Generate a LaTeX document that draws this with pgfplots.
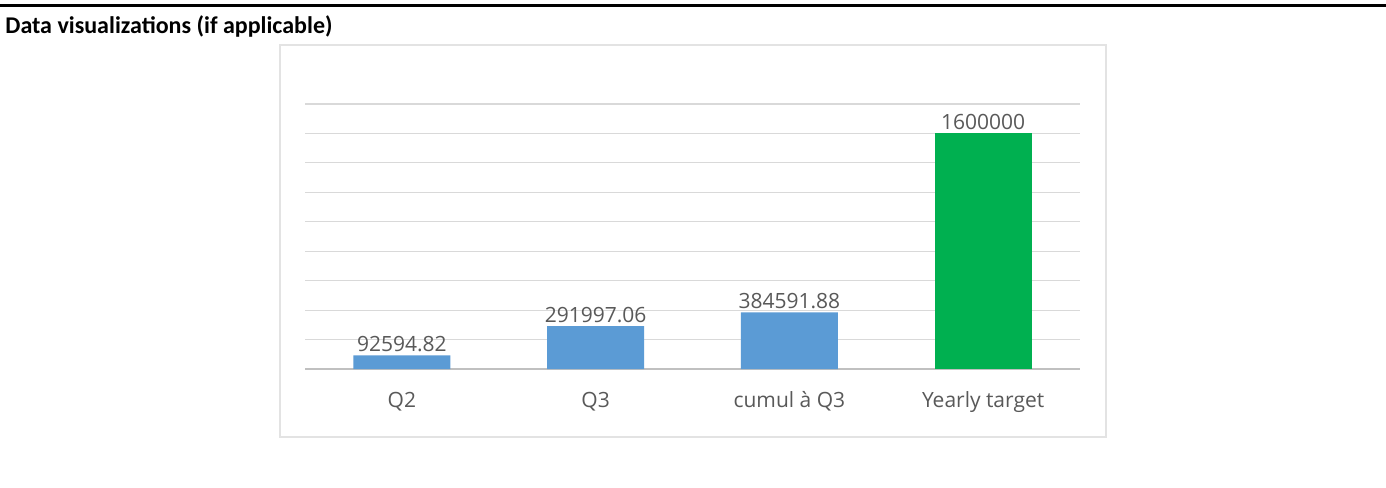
\documentclass[border=0pt]{standalone}
\usepackage{pgfplots}
\pgfplotsset{compat=1.18}
\usepackage{fontspec}
\setmainfont{Carlito}
\newfontfamily\chartfont{Open Sans}
\definecolor{barblue}{HTML}{5B9BD5}
\definecolor{bargreen}{HTML}{00B050}
\definecolor{labelgray}{HTML}{595959}
\definecolor{gridgray}{HTML}{D9D9D9}
\definecolor{basegray}{HTML}{C0C0C0}
\definecolor{framegray}{HTML}{E3E3E3}
\begin{document}
\begin{tikzpicture}
\useasboundingbox (0pt,0pt) rectangle (693pt,-243.5pt);
\fill[white] (0pt,0pt) rectangle (693pt,-243.5pt);
\draw[black, line width=1.3pt] (0pt,-2.6pt) -- (693pt,-2.6pt);
\node[anchor=base west, inner sep=0pt, font=\bfseries\fontsize{12}{14}\selectfont] at (2.5pt,-16.5pt) {Data visualizations (if applicable)};
\draw[framegray, line width=0.6pt] (140pt,-22.5pt) rectangle (553pt,-218.5pt);
\begin{axis}[
  at={(152.5pt,-184.5pt)}, anchor=south west,
  width=387.5pt, height=132.5pt, scale only axis,
  xmin=-0.5, xmax=3.5, ymin=0, ymax=1800000,
  scaled y ticks=false,
  axis line style={draw=none},
  ytick={200000,400000,...,1800000},
  yticklabels={},
  ymajorgrids, grid style={gridgray, line width=0.6pt},
  extra y ticks={0}, extra y tick labels={},
  extra y tick style={grid style={basegray, line width=1.3pt}},
  major tick length=0pt,
  xtick={0,1,2,3},
  xticklabels={Q2,Q3,cumul à Q3,Yearly target},
  xticklabel style={anchor=base, yshift=-19pt, font=\chartfont\fontsize{10.5}{12}\selectfont, text=labelgray},
  ybar, bar width=48.5pt,
  nodes near coords,
  point meta=explicit symbolic,
  nodes near coords style={anchor=base, yshift=2pt, font=\chartfont\fontsize{10.5}{12}\selectfont, text=labelgray},
  clip=false,
]
\addplot[fill=barblue, draw=none, bar shift=0pt] coordinates {
  (0,92594.82) [92594.82]
  (1,291997.06) [291997.06]
  (2,384591.88) [384591.88]
};
\addplot[fill=bargreen, draw=none, bar shift=0pt] coordinates {
  (3,1600000) [1600000]
};
\end{axis}
\end{tikzpicture}
\end{document}
